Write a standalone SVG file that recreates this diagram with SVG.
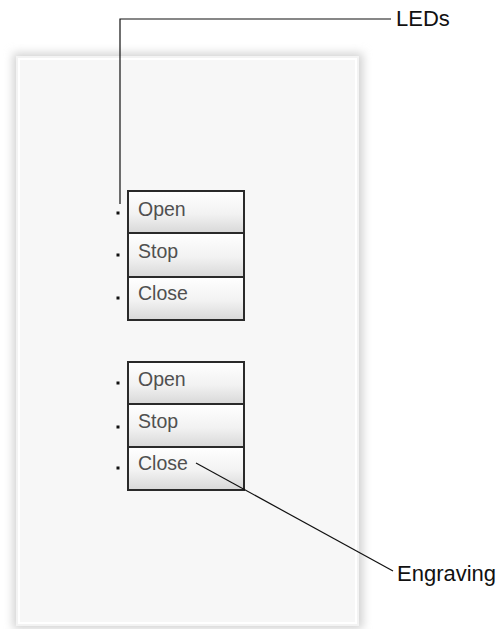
<svg xmlns="http://www.w3.org/2000/svg" width="497" height="629" viewBox="0 0 497 629">
<style>
.btn{stroke:#2a2a2a;stroke-width:2;fill:url(#bg)}
.lbl{font-family:"Liberation Sans",Arial,sans-serif;font-size:19.5px;fill:#505050}
.call{font-family:"Liberation Sans",Arial,sans-serif;font-size:22px;fill:#111}
.led{fill:#111}
.lead{stroke:#111;stroke-width:1.2;fill:none}
</style>
<defs>
<linearGradient id="bg" x1="0" y1="0" x2="0" y2="1">
<stop offset="0" stop-color="#ffffff"/>
<stop offset="0.55" stop-color="#f2f2f2"/>
<stop offset="1" stop-color="#d8d8d8"/>
</linearGradient>
<filter id="sh" x="-10%" y="-10%" width="120%" height="120%">
<feGaussianBlur stdDeviation="5"/>
</filter>
</defs>
<rect width="497" height="629" fill="#fff"/>
<g id="plate">
<rect x="13" y="53" width="350" height="576" fill="#d2d2d2" filter="url(#sh)"/>
<rect x="16" y="56" width="343" height="570" fill="#f3f3f3"/>
<rect x="19" y="59" width="337" height="564" fill="#f7f7f7" stroke="#ffffff" stroke-width="2"/>
</g>
<g id="btn-open-1"><rect class="btn" x="128" y="191" width="116" height="42"/><text class="lbl" x="138" y="216">Open</text><rect class="led" x="116.5" y="211.5" width="3" height="3"/></g>
<g id="btn-stop-1"><rect class="btn" x="128" y="233" width="116" height="44"/><text class="lbl" x="138" y="258">Stop</text><rect class="led" x="116.5" y="253.5" width="3" height="3"/></g>
<g id="btn-close-1"><rect class="btn" x="128" y="277" width="116" height="43"/><text class="lbl" x="138" y="300">Close</text><rect class="led" x="116.5" y="296.5" width="3" height="3"/></g>
<g id="btn-open-2"><rect class="btn" x="128" y="362" width="116" height="42"/><text class="lbl" x="138" y="386">Open</text><rect class="led" x="116.5" y="381.5" width="3" height="3"/></g>
<g id="btn-stop-2"><rect class="btn" x="128" y="404" width="116" height="43"/><text class="lbl" x="138" y="428">Stop</text><rect class="led" x="116.5" y="425.5" width="3" height="3"/></g>
<g id="btn-close-2"><rect class="btn" x="128" y="447" width="116" height="43"/><text class="lbl" x="138" y="470">Close</text><rect class="led" x="116.5" y="466.5" width="3" height="3"/></g>
<g id="connectors">
<polyline class="lead" points="120,204 120,19 391,19"/>
<line class="lead" x1="196" y1="463" x2="393" y2="571"/>
</g>
<g id="label-leds"><text class="call" x="396" y="26">LEDs</text></g>
<g id="label-engraving"><text class="call" x="397" y="581">Engraving</text></g>
</svg>
